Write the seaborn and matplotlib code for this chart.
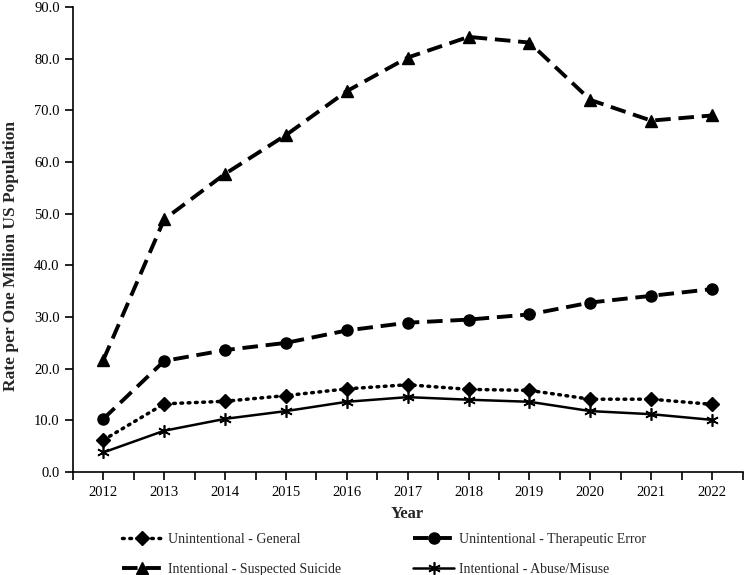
import matplotlib
matplotlib.use("Agg")
import matplotlib.pyplot as plt
import seaborn as sns
import pandas as pd
from matplotlib.ticker import FormatStrFormatter, MultipleLocator

years = [2012, 2013, 2014, 2015, 2016, 2017, 2018, 2019, 2020, 2021, 2022]
general = [6.2, 13.2, 13.7, 14.8, 16.1, 16.9, 16.0, 15.8, 14.1, 14.1, 13.1]
therapeutic = [10.3, 21.5, 23.6, 25.0, 27.4, 28.9, 29.5, 30.5, 32.8, 34.1, 35.4]
suicide = [21.7, 48.9, 57.7, 65.2, 73.7, 80.2, 84.2, 83.1, 72.0, 68.0, 69.0]
abuse = [3.8, 8.0, 10.3, 11.8, 13.6, 14.5, 14.0, 13.6, 11.8, 11.2, 10.1]

series = {
    "Unintentional - General": general,
    "Unintentional - Therapeutic Error": therapeutic,
    "Intentional - Suspected Suicide": suicide,
    "Intentional - Abuse/Misuse": abuse,
}
# linestyle, marker, markersize, linewidth
styles = {
    "Unintentional - General": ((0, (0.5, 1.6)), "D", 7, 2.5),
    "Unintentional - Therapeutic Error": ((0, (4, 2)), "o", 8, 2.8),
    "Intentional - Suspected Suicide": ((0, (4, 2)), "^", 9, 2.8),
    "Intentional - Abuse/Misuse": ("-", (6, 2, 0), 9, 1.8),
}

sns.set_style("ticks")
plt.rcParams["font.family"] = ["Liberation Serif", "DejaVu Serif"]

fig = plt.figure(figsize=(7.44, 5.75), dpi=100)
ax = fig.add_axes([0.098, 0.179, 0.9, 0.809])

handles = {}
for name, vals in series.items():
    ls, mk, ms, lw = styles[name]
    df = pd.DataFrame({"Year": years, "Rate": vals})
    cap = "round" if name == "Unintentional - General" else "butt"
    sns.lineplot(data=df, x="Year", y="Rate", ax=ax, color="black",
                 linestyle=ls, linewidth=lw, marker=mk, markersize=ms,
                 markeredgecolor="black", markerfacecolor="black",
                 markeredgewidth=1.0 if mk != (6, 2, 0) else 1.2,
                 dash_capstyle=cap)
    handles[name] = ax.lines[-1]

ax.set_xlim(2011.5, 2022.5)
ax.set_ylim(0, 90)
ax.set_xticks(years)
ax.set_xticklabels([str(y) for y in years])
ax.set_xticks([y + 0.5 for y in [2011] + years], minor=True)
ax.yaxis.set_major_locator(MultipleLocator(10))
ax.yaxis.set_major_formatter(FormatStrFormatter("%.1f"))
ax.tick_params(axis="both", which="both", direction="out", colors="black",
               labelsize=10.5, width=1.2)
ax.tick_params(axis="both", which="major", length=6)
ax.tick_params(axis="x", which="minor", length=6)
ax.tick_params(axis="x", pad=4)

for s in ["top", "right"]:
    ax.spines[s].set_visible(False)
for s in ["left", "bottom"]:
    ax.spines[s].set_linewidth(1.2)
    ax.spines[s].set_color("black")

ax.set_xlabel("Year", fontsize=12, fontweight="bold", labelpad=5)
ax.set_ylabel("Rate per One Million US Population", fontsize=12.5,
              fontweight="bold", labelpad=10)
ax.yaxis.set_label_coords(-0.08, 0.465)

order = ["Unintentional - General", "Intentional - Suspected Suicide",
         "Unintentional - Therapeutic Error", "Intentional - Abuse/Misuse"]
fig.legend([handles[n] for n in order], order, loc="upper left",
           bbox_to_anchor=(0.156, 0.083), ncol=2, frameon=False,
           fontsize=10, handlelength=3.0, labelspacing=1.25,
           columnspacing=5.15, handletextpad=0.35, borderaxespad=0)

fig.savefig("out.png", dpi=100)
